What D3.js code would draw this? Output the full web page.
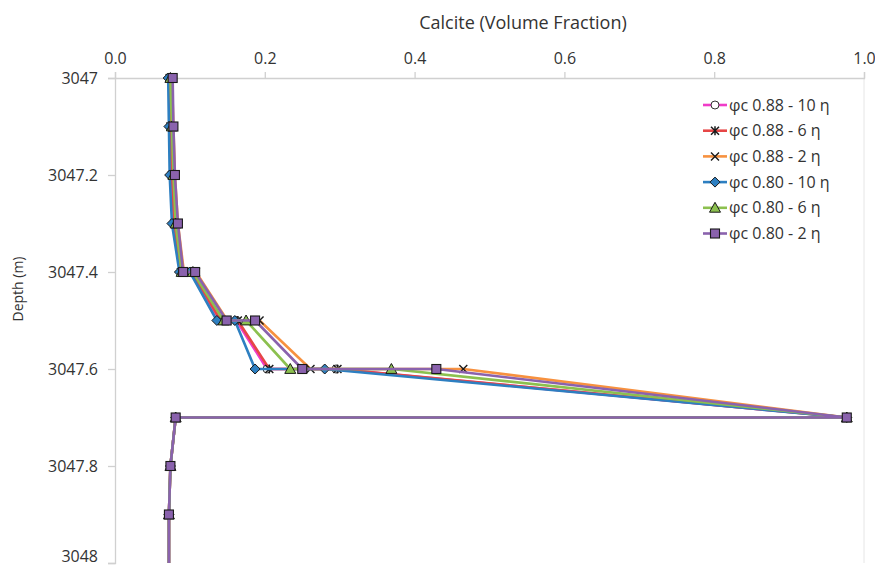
<!DOCTYPE html>
<html>
<head>
<meta charset="utf-8">
<script src="https://cdn.jsdelivr.net/npm/d3@7"></script>
<style>
  html, body { margin: 0; padding: 0; background: #fff; }
  svg { display: block; font-family: "Open Sans", "Liberation Sans", sans-serif; }
</style>
</head>
<body>
<svg id="chart" width="875" height="568"></svg>
<script>
// ---------- DATA ----------
const depths = [3047.0, 3047.1, 3047.2, 3047.3, 3047.4, 3047.4, 3047.5, 3047.5, 3047.6, 3047.6, 3047.7, 3047.7, 3047.8, 3047.9, 3048.0];

const seriesNames = ["φc 0.88 - 10 η", "φc 0.88 - 6 η", "φc 0.88 - 2 η", "φc 0.80 - 10 η", "φc 0.80 - 6 η", "φc 0.80 - 2 η"];

const calcite_088_10 = [0.073, 0.074, 0.076, 0.079, 0.088, 0.102, 0.140, 0.162, 0.203, 0.295, 0.977, 0.081, 0.074, 0.072, 0.072];
const calcite_088_6  = [0.073, 0.074, 0.076, 0.079, 0.088, 0.103, 0.141, 0.164, 0.206, 0.297, 0.977, 0.081, 0.074, 0.072, 0.072];
const calcite_088_2  = [0.076, 0.078, 0.080, 0.084, 0.092, 0.108, 0.150, 0.193, 0.261, 0.465, 0.977, 0.081, 0.074, 0.072, 0.072];
const calcite_080_10 = [0.071, 0.072, 0.073, 0.076, 0.086, 0.100, 0.136, 0.160, 0.187, 0.280, 0.977, 0.081, 0.074, 0.072, 0.072];
const calcite_080_6  = [0.074, 0.076, 0.078, 0.081, 0.089, 0.104, 0.145, 0.175, 0.234, 0.369, 0.977, 0.081, 0.074, 0.072, 0.072];
const calcite_080_2  = [0.077, 0.078, 0.080, 0.084, 0.091, 0.107, 0.149, 0.187, 0.250, 0.429, 0.977, 0.081, 0.074, 0.072, 0.072];

const xTickValues = [0.0, 0.2, 0.4, 0.6, 0.8, 1.0];
const yTickValues = [3047.0, 3047.2, 3047.4, 3047.6, 3047.8, 3048.0];
const yTickLabels = ["3047", "3047.2", "3047.4", "3047.6", "3047.8", "3048"];

// ---------- STYLE ----------
const seriesValues = [calcite_088_10, calcite_088_6, calcite_088_2, calcite_080_10, calcite_080_6, calcite_080_2];
const colors = ["#f03cc8", "#e64646", "#f7913f", "#2d7fc1", "#8cc04f", "#8a62ad"];
const markerTypes = ["circle", "asterisk", "x", "diamond", "triangle", "square"];

const svg = d3.select("#chart");

const x = d3.scaleLinear().domain([0, 1]).range([115, 864]);
const y = d3.scaleLinear().domain([3047, 3048]).range([78, 563]);

const axisColor = "#d0d0d0";
const textColor = "#333333";

// right edge line
svg.append("line")
  .attr("x1", x(1)).attr("x2", x(1)).attr("y1", y(3047)).attr("y2", y(3048))
  .attr("stroke", "#e6e6e6").attr("stroke-width", 1);

// X axis (top)
const xAxis = d3.axisTop(x).tickValues(xTickValues).tickFormat(d3.format(".1f")).tickSize(6).tickPadding(8);
const gx = svg.append("g").attr("transform", `translate(0,${y(3047)})`).call(xAxis);
gx.select(".domain").attr("stroke", axisColor).attr("stroke-width", 1.3);
gx.selectAll(".tick line").attr("stroke", axisColor).attr("stroke-width", 1.3);
gx.selectAll(".tick text").attr("fill", textColor).style("font-size", "16px").style("font-family", "Open Sans");

// Y axis (left)
const yAxis = d3.axisLeft(y).tickValues(yTickValues).tickFormat((d, i) => yTickLabels[i]).tickSize(7).tickPadding(10);
const gy = svg.append("g").attr("transform", `translate(${x(0)},0)`).call(yAxis);
gy.select(".domain").attr("stroke", axisColor).attr("stroke-width", 1.3);
gy.selectAll(".tick line").attr("stroke", axisColor).attr("stroke-width", 1.3);
gy.selectAll(".tick text").attr("fill", textColor).style("font-size", "16px").style("font-family", "Open Sans")
  .attr("dy", (d, i) => i === yTickValues.length - 1 ? "-0.08em" : "0.32em");

// Titles
svg.append("text").attr("x", 523).attr("y", 29).attr("text-anchor", "middle")
  .attr("fill", textColor).style("font-size", "18px").text("Calcite (Volume Fraction)");
svg.append("text").attr("transform", "translate(23,289) rotate(-90)").attr("text-anchor", "middle")
  .attr("fill", textColor).style("font-size", "14px").text("Depth (m)");

// Marker drawing
function drawMarker(g, type, cx, cy, color) {
  const dark = "#1a1a1a";
  if (type === "circle") {
    g.append("circle").attr("cx", cx).attr("cy", cy).attr("r", 4).attr("fill", "#fff").attr("stroke", "#333").attr("stroke-width", 1);
  } else if (type === "asterisk") {
    const s = 4;
    const p = `M${cx - s},${cy - s}L${cx + s},${cy + s}M${cx - s},${cy + s}L${cx + s},${cy - s}M${cx},${cy - s - 0.5}L${cx},${cy + s + 0.5}`;
    g.append("path").attr("d", p).attr("stroke", dark).attr("stroke-width", 1.5).attr("fill", "none");
  } else if (type === "x") {
    const s = 4;
    const p = `M${cx - s},${cy - s}L${cx + s},${cy + s}M${cx - s},${cy + s}L${cx + s},${cy - s}`;
    g.append("path").attr("d", p).attr("stroke", dark).attr("stroke-width", 1.4).attr("fill", "none");
  } else if (type === "diamond") {
    const s = 5;
    g.append("path").attr("d", `M${cx},${cy - s}L${cx + s},${cy}L${cx},${cy + s}L${cx - s},${cy}Z`)
      .attr("fill", color).attr("stroke", dark).attr("stroke-width", 1);
  } else if (type === "triangle") {
    const s = 5.5;
    g.append("path").attr("d", `M${cx},${cy - s}L${cx + s},${cy + s * 0.8}L${cx - s},${cy + s * 0.8}Z`)
      .attr("fill", color).attr("stroke", dark).attr("stroke-width", 1);
  } else if (type === "square") {
    const s = 4.5;
    g.append("rect").attr("x", cx - s).attr("y", cy - s).attr("width", 2 * s).attr("height", 2 * s)
      .attr("fill", color).attr("stroke", dark).attr("stroke-width", 1.1);
  }
}

const line = d3.line().x(d => x(d[0])).y(d => y(d[1]));

seriesValues.forEach((vals, si) => {
  const pts = vals.map((v, i) => [v, depths[i]]);
  const g = svg.append("g");
  g.append("path").datum(pts).attr("d", line).attr("fill", "none")
    .attr("stroke", colors[si]).attr("stroke-width", 2.6).attr("stroke-linejoin", "round");
  pts.forEach(p => {
    if (p[1] < 3048) drawMarker(g, markerTypes[si], x(p[0]), y(p[1]), colors[si]);
  });
});

// Legend
const legend = svg.append("g");
seriesNames.forEach((name, i) => {
  const cy = 105 + i * 25.7;
  legend.append("line").attr("x1", 703).attr("x2", 727).attr("y1", cy).attr("y2", cy)
    .attr("stroke", colors[i]).attr("stroke-width", 2.6);
  drawMarker(legend, markerTypes[i], 715, cy, colors[i]);
  legend.append("text").attr("x", 729).attr("y", cy + 5.5).attr("fill", textColor)
    .style("font-size", "16px").text(name);
});
</script>
</body>
</html>
